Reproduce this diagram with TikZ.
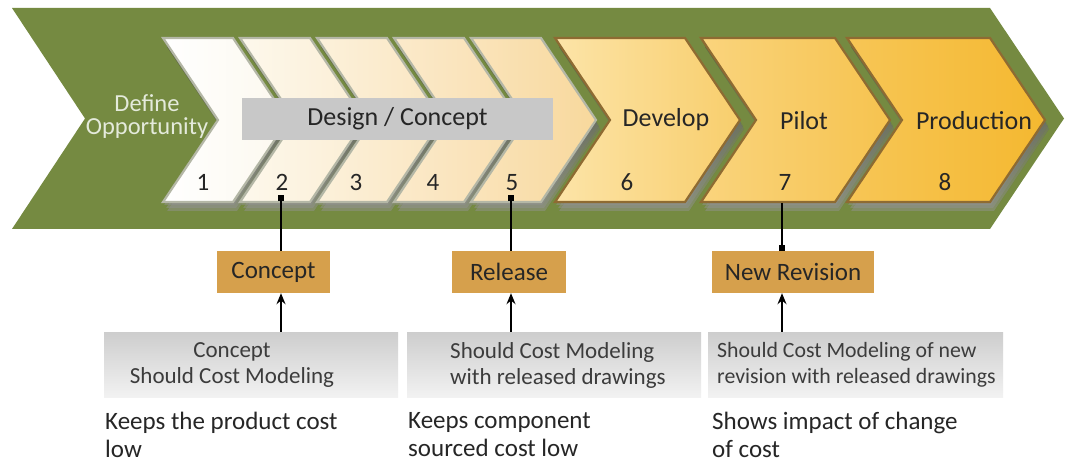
\documentclass[tikz,border=0pt]{standalone}
\usepackage{fontspec}
\setmainfont{Carlito}
\usetikzlibrary{arrows.meta}

\definecolor{band}{HTML}{758A41}
\definecolor{lightedge}{HTML}{B4B7A6}
\definecolor{darkedge}{HTML}{8E6B32}
\definecolor{tagfill}{HTML}{D6A04C}
\definecolor{graytop}{HTML}{CDCDCD}
\definecolor{graybot}{HTML}{F2F2F2}
\definecolor{dcgray}{HTML}{C8C8C8}
\definecolor{deftext}{HTML}{E4EADB}
\definecolor{ink}{HTML}{262626}
\definecolor{shade}{HTML}{2B2F12}
% stage shading, left and right ends
\definecolor{sA}{HTML}{FFFFFF}\definecolor{sAr}{HTML}{FCF8EE}
\definecolor{sB}{HTML}{FDF8EC}\definecolor{sBr}{HTML}{FBEED4}
\definecolor{sC}{HTML}{FCF1DB}\definecolor{sCr}{HTML}{FAE6C1}
\definecolor{sD}{HTML}{FBEACB}\definecolor{sDr}{HTML}{F9DFB0}
\definecolor{sE}{HTML}{FAE4BB}\definecolor{sEr}{HTML}{F8D89C}
\definecolor{sF}{HTML}{FCE4A8}\definecolor{sFr}{HTML}{F8CE6C}
\definecolor{sG}{HTML}{FAD47D}\definecolor{sGr}{HTML}{F6C34F}
\definecolor{sH}{HTML}{F7C656}\definecolor{sHr}{HTML}{F4B830}

% chevron outline from its left x and top width
\newcommand{\chevoutline}[2]{(#1,38) -- ++(#2,0) -- ++(55,82) -- ++(-55,82) -- ++(-#2,0) -- ++(55,-82) -- cycle}
% chevron with soft drop shadow: left x, top width, colour key, border colour
\newcommand{\chev}[4]{%
  \fill[chevshadow, xshift=1pt, yshift=-3pt] \chevoutline{#1}{#2};
  \fill[chevshadow, xshift=3pt, yshift=-6pt] \chevoutline{#1}{#2};
  \fill[chevshadow, xshift=4pt, yshift=-9pt] \chevoutline{#1}{#2};
  \draw[chevron, left color=#3, right color=#3r, draw=#4] \chevoutline{#1}{#2};}

\begin{document}
\begin{tikzpicture}[x=1pt, y=-1pt,
  chevshadow/.style={shade, opacity=0.28},
  chevron/.style={line width=2.2pt, line join=miter},
  head/.style={font=\fontsize{26}{28}\selectfont, text=ink, inner sep=0pt},
  num/.style={font=\fontsize{25}{28}\selectfont, text=ink, inner sep=0pt, anchor=base},
  tag/.style={fill=tagfill, font=\fontsize{25}{27}\selectfont, text=ink,
    minimum height=42pt, inner sep=0pt},
  graybox/.style={top color=graytop, bottom color=graybot, draw=none,
    minimum width=294pt, minimum height=65pt, inner sep=0pt},
  boxtext/.style={font=\fontsize{23}{26}\selectfont, text=ink!90, inner sep=0pt},
  desc/.style={font=\fontsize{25}{28}\selectfont, text=ink, inner sep=0pt,
    align=left, anchor=north west},
  conn/.style={line width=1.4pt, black},
  uparrow/.style={line width=1.6pt, black, -{Stealth[length=11pt, width=9pt]}},
  sq/.style={{Square[length=6pt, width=6pt]}-},
  sqend/.style={-{Square[length=6pt, width=6pt]}}
]
\useasboundingbox (0,0) rectangle (1068,462);
\fill[white] (0,0) rectangle (1068,462);

% green process band
\fill[band] (12,8) -- (990,8) -- (1064,118.5) -- (990,229) -- (12,229) -- (85,118.5) -- cycle;

% stage chevrons
\chev{163}{70}{sA}{lightedge}
\chev{240}{70}{sB}{lightedge}
\chev{317}{70}{sC}{lightedge}
\chev{394}{70}{sD}{lightedge}
\chev{471}{70}{sE}{lightedge}
\chev{555}{130}{sF}{darkedge}
\chev{701}{134}{sG}{darkedge}
\chev{847}{143}{sH}{darkedge}

% labels on the band
\node[align=center, text=deftext, font=\fontsize{24.5}{23}\selectfont, inner sep=0pt]
  (def) at (147,117) {Define\\Opportunity};
\node[head, fill=dcgray, minimum width=311pt, minimum height=42pt] (dc) at (397.5,119) {Design / Concept};
\node[head, anchor=base] (dev) at (666,127) {Develop};
\node[head, anchor=base] (pil) at (804,130) {Pilot};
\node[head, anchor=base] (pro) at (974,130) {Production};

\node[num] (n1) at (203,191) {1};
\node[num] (n2) at (282,191) {2};
\node[num] (n3) at (356,191) {3};
\node[num] (n4) at (433,191) {4};
\node[num] (n5) at (512,191) {5};
\node[num] (n6) at (627,191) {6};
\node[num] (n7) at (785,191) {7};
\node[num] (n8) at (945,191) {8};

% milestone tags
\node[tag, minimum width=113pt] (concept) at (273.5,272) {Concept};
\node[tag, minimum width=114pt] (release) at (509,272) {Release};
\node[tag, minimum width=162pt] (newrev) at (793,272) {New Revision};

% modelling boxes
\node[graybox] (g1) at (251,364.5) {};
\node[graybox] (g2) at (554,364.5) {};
\node[graybox, minimum width=295pt] (g3) at (855.5,364.5) {};
\node[boxtext, align=center] (t1) at (232,365) {Concept\\Should Cost Modeling};
\node[boxtext, align=left, anchor=west] (t2) at (450,365) {Should Cost Modeling\\with released drawings};
\node[boxtext, align=left, anchor=west, font=\fontsize{21.8}{26}\selectfont] (t3) at (717,365)
  {Should Cost Modeling of new\\revision with released drawings};

% outcomes
\node[desc] (d1) at (105,412) {Keeps the product cost\\low};
\node[desc] (d2) at (408,412) {Keeps component\\sourced cost low};
\node[desc] (d3) at (712,412) {Shows impact of change\\of cost};

% connectors from stages to tags
\coordinate (s2) at (281,195);
\coordinate (s5) at (511,195);
\coordinate (s7) at (782,203);
\draw[conn, sq] (s2) -- (s2 |- concept.north);
\draw[conn, sq] (s5) -- (s5 |- release.north);
\draw[conn, sqend] (s7) -- (s7 |- newrev.north);

% arrows from modelling boxes up to tags
\draw[uparrow] (s2 |- g1.north) -- (s2 |- concept.south);
\draw[uparrow] (s5 |- g2.north) -- (s5 |- release.south);
\draw[uparrow] (s7 |- g3.north) -- (s7 |- newrev.south);
\end{tikzpicture}
\end{document}
